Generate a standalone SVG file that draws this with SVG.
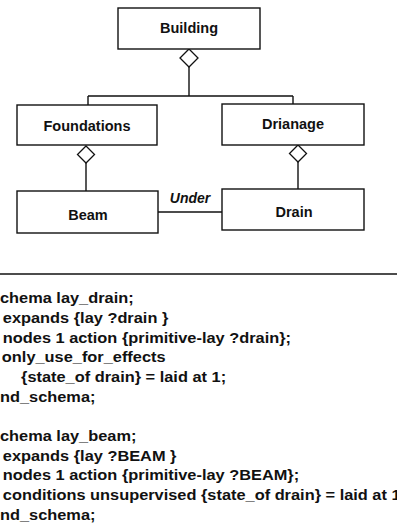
<svg xmlns="http://www.w3.org/2000/svg" width="397" height="525" viewBox="0 0 397 525">
<style>
.box{fill:#fff;stroke:#111;stroke-width:1.4}
.dia{fill:#fff;stroke:#111;stroke-width:1.3}
.ln{fill:none;stroke:#111;stroke-width:1.4}
.lbl{font-family:"Liberation Sans",Arial,sans-serif;font-weight:bold;font-size:14.5px;fill:#111;text-anchor:middle}
.it{font-style:italic;font-size:14px}
.code{font-family:"Liberation Sans",Arial,sans-serif;font-weight:bold;font-size:14px;fill:#111}
</style>
<rect width="397" height="525" fill="#fff"/>
<g id="connectors">
<path class="ln" d="M189 67V96M88 96H293M88 96V105M293 96V104"/>
<path class="ln" d="M86 163V191"/>
<path class="ln" d="M298 162V189"/>
<path class="ln" d="M158 212H222"/>
<polygon class="dia" points="189,49 198,58 189,67 180,58"/>
<polygon class="dia" points="86,146 94.5,154.5 86,163 77.5,154.5"/>
<polygon class="dia" points="298,145 306.5,153.5 298,162 289.5,153.5"/>
<text class="lbl it" x="190" y="203">Under</text>
</g>
<g id="building"><rect class="box" x="118" y="8" width="142" height="41"/><text class="lbl" x="189" y="33">Building</text></g>
<g id="foundations"><rect class="box" x="17" y="105" width="140" height="40"/><text class="lbl" x="87" y="131">Foundations</text></g>
<g id="drianage"><rect class="box" x="222" y="104" width="142" height="41"/><text class="lbl" x="293" y="129">Drianage</text></g>
<g id="beam"><rect class="box" x="17" y="191" width="141" height="42"/><text class="lbl" x="88" y="220">Beam</text></g>
<g id="drain"><rect class="box" x="222" y="189" width="142" height="41"/><text class="lbl" x="294" y="217">Drain</text></g>
<line class="ln" x1="0" y1="274" x2="397" y2="274" stroke-width="1.6"/>
<g id="code" transform="scale(1.17,1)">
<text class="code" x="-7.8" y="303">schema lay_drain;</text>
<text class="code" x="2.4" y="323">expands {lay ?drain }</text>
<text class="code" x="2.4" y="343">nodes 1 action {primitive-lay ?drain};</text>
<text class="code" x="1.6" y="362">only_use_for_effects</text>
<text class="code" x="18" y="382">{state_of drain} = laid at 1;</text>
<text class="code" x="-7.8" y="402">end_schema;</text>
<text class="code" x="-7.8" y="441">schema lay_beam;</text>
<text class="code" x="2.4" y="461">expands {lay ?BEAM }</text>
<text class="code" x="2.4" y="480">nodes 1 action {primitive-lay ?BEAM};</text>
<text class="code" x="2.4" y="500">conditions unsupervised {state_of drain} = laid at 1;</text>
<text class="code" x="-7.8" y="520">end_schema;</text>
</g>
</svg>
